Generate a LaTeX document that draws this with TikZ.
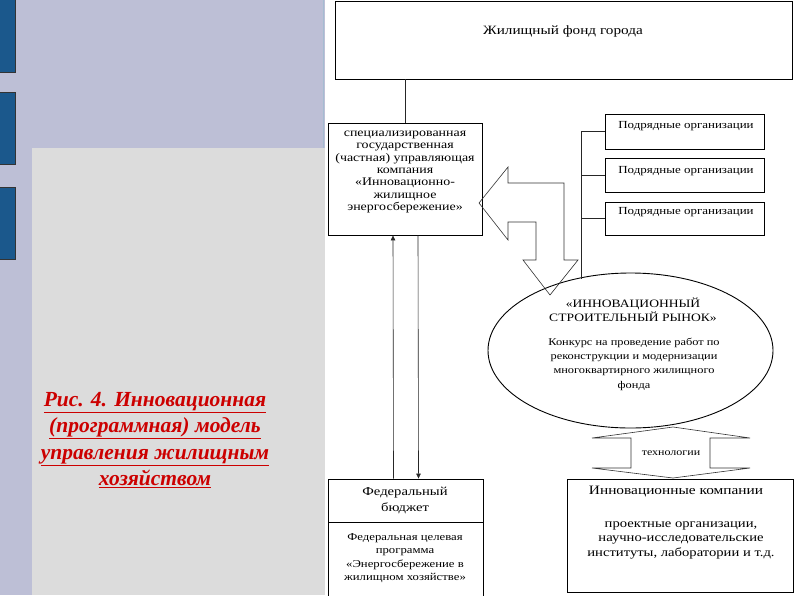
\documentclass[tikz,border=0pt]{standalone}
\usepackage{fontspec}
\setmainfont{Liberation Serif}
\newfontfamily\widefont[FakeStretch=1.2]{Liberation Serif}
\usetikzlibrary{arrows.meta,shapes.geometric}
\definecolor{lav}{RGB}{189,191,214}
\definecolor{panel}{RGB}{220,220,220}
\definecolor{barblue}{RGB}{27,88,140}
\definecolor{capred}{RGB}{204,0,0}
\begin{document}
\begin{tikzpicture}[x=1pt,y=-1pt,
  box/.style={draw, line width=0.9pt, rectangle, inner sep=0pt},
  lbl/.style={align=center, inner sep=0pt},
  arr/.style={-{Triangle[length=5pt,width=4.5pt]}, line width=0.6pt, black!85},
  ln/.style={line width=0.6pt, black!85},
  bigarrow/.style={line width=0.6pt, black!80},
  bar/.style={fill=barblue, draw=black!80, line width=0.6pt}]
\useasboundingbox (0,0) rectangle (794,595);
% background
\fill[white] (0,0) rectangle (794,595);
\fill[lav] (0,0) rectangle (325,595);
\fill[panel] (32,148) rectangle (325,595);
\draw[barblue!40!white, line width=1pt] (323.5,0) -- (323.5,148);
\filldraw[bar] (-1,-1) rectangle (15,72);
\filldraw[bar] (-1,92) rectangle (15,164);
\filldraw[bar] (-1,187) rectangle (15,259);
% caption
\node[lbl, text=capred, font=\fontsize{21.5}{26.5}\selectfont\bfseries\itshape] (cap) at (155,440)
 {\underline{Рис. 4. Инновационная}\\\underline{(программная) модель}\\\underline{управления жилищным}\\\underline{хозяйством}};
% top box
\node[box, minimum width=457pt, minimum height=78pt] (fund) at (563.5,40) {};
\node[lbl, font=\widefont\fontsize{12.7}{14}\selectfont] (fundt) at (563,31) {Жилищный фонд города};
% management company
\node[box, minimum width=154pt, minimum height=112pt] (uk) at (405,179) {};
\node[lbl, font=\widefont\fontsize{11.6}{12.3}\selectfont] (ukt) at (405,172)
 {специализированная\\государственная\\(частная) управляющая\\компания\\«Инновационно-\\жилищное\\энергосбережение»};
% contractors
\node[box, minimum width=159pt, minimum height=35pt] (p1) at (684.5,131.5) {};
\node[box, minimum width=159pt, minimum height=34pt] (p2) at (684.5,175) {};
\node[box, minimum width=159pt, minimum height=33pt] (p3) at (684.5,218.5) {};
\node[lbl, font=\widefont\fontsize{10.8}{12}\selectfont] (p1t) at (686,126) {Подрядные организации};
\node[lbl, font=\widefont\fontsize{10.8}{12}\selectfont] (p2t) at (686,171) {Подрядные организации};
\node[lbl, font=\widefont\fontsize{10.8}{12}\selectfont] (p3t) at (686,212) {Подрядные организации};
% market ellipse
\node[ellipse, draw, line width=0.9pt, minimum width=285pt, minimum height=155pt, inner sep=0pt] (mkt) at (630.5,350.5) {};
\node[lbl, font=\widefont\fontsize{11.3}{14}\selectfont] (mkth) at (633,310) {«ИННОВАЦИОННЫЙ\\СТРОИТЕЛЬНЫЙ РЫНОК»};
\node[lbl, font=\widefont\fontsize{10.3}{14.3}\selectfont] (mktb) at (634,364)
 {Конкурс на проведение работ по\\реконструкции и модернизации\\многоквартирного жилищного\\фонда};
% federal budget
\node[box, minimum width=155pt, minimum height=43pt] (fedtop) at (405.5,500.5) {};
\node[box, minimum width=155pt, minimum height=76pt] (fedbot) at (405.5,560) {};
\node[lbl, font=\widefont\fontsize{12.2}{16}\selectfont] (fedtopt) at (405,500) {Федеральный\\бюджет};
\node[lbl, font=\widefont\fontsize{10.6}{13.3}\selectfont] (fedbott) at (405,558)
 {Федеральная целевая\\программа\\«Энергосбережение в\\жилищном хозяйстве»};
% innovative companies
\node[box, minimum width=226pt, minimum height=113pt] (innov) at (680,535.5) {};
\node[lbl, font=\widefont\fontsize{12.8}{14.5}\selectfont] (innovh) at (676,492) {Инновационные компании};
\node[lbl, font=\widefont\fontsize{12.2}{14.5}\selectfont] (innovb) at (681,540)
 {проектные организации,\\научно-исследовательские\\институты, лаборатории и т.д.};
% connectors
\draw[ln] (uk.north) -- (uk.north |- fund.south);
\draw[arr] ([xshift=-12pt]fedtop.north) -- ([xshift=-12pt]uk.south);
\draw[arr] ([xshift=13pt]uk.south) -- ([xshift=13pt]fedtop.north);
\coordinate (brk) at (581,131.5);
\coordinate (brkend) at (581,279);
\draw[ln] (p1.west) -- (brk) -- (brkend);
\draw[ln] (p2.west) -- (p2.west -| brk);
\draw[ln] (p3.west) -- (p3.west -| brk);
% big L-shaped double arrow
\draw[bigarrow] (479,203) -- (508,167) -- (508,183) -- (564,183) -- (564,260) -- (578,260)
  -- (550,295) -- (523,260) -- (536,260) -- (536,222) -- (508,222) -- (508,240) -- cycle;
% technology double arrow
\draw[bigarrow] (673,427) -- (750,438) -- (710,438) -- (710,468) -- (750,468) -- (673,478)
  -- (592,468) -- (631,468) -- (631,438) -- (592,438) -- cycle;
\node[lbl, font=\widefont\fontsize{10}{10}\selectfont] (tech) at (671,453) {технологии};
\end{tikzpicture}
\end{document}
